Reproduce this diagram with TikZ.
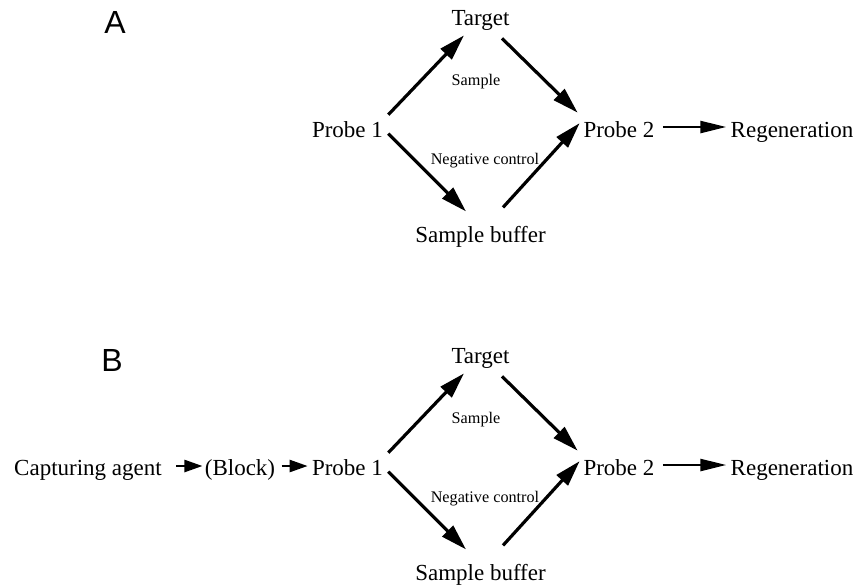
\documentclass[tikz,border=0pt]{standalone}
\usepackage{fontspec}
\setmainfont{Liberation Serif}
\newfontfamily\panelfont{Liberation Sans}
\usetikzlibrary{arrows.meta}
\begin{document}
\begin{tikzpicture}[x=0.5pt,y=-0.5pt,
	lbl/.style={inner sep=0pt,anchor=base,font=\fontsize{11.5}{13}\selectfont},
	note/.style={inner sep=0pt,anchor=base,font=\fontsize{8.1}{10}\selectfont},
	panel/.style={inner sep=0pt,anchor=base,font=\panelfont\fontsize{16}{18}\selectfont},
	arr/.style={line width=1.6pt,-{Triangle[length=13pt,width=7.5pt]}},
	longarr/.style={line width=1.2pt,-{Triangle[length=13pt,width=6pt]}},
	shortarr/.style={line width=1.2pt,-{Triangle[length=9pt,width=6pt]}}]
	\useasboundingbox (0,0) rectangle (857,586);

	\foreach \p/\dy/\lx in {A/0/115,B/338/112} {
	\begin{scope}[shift={(0,\dy)}]
	\node[panel] (lab\p) at (\lx,33) {\p};
	\node[lbl] (p1\p) at (347.5,137) {Probe 1};
	\node[lbl] (tg\p) at (480.5,25) {Target};
	\node[lbl] (sb\p) at (480.5,242) {Sample buffer};
	\node[lbl] (p2\p) at (619,137) {Probe 2};
	\node[lbl] (rg\p) at (792,137) {Regeneration};
	\node[note] (sm\p) at (476,85) {Sample};
	\node[note] (nc\p) at (485,164) {Negative control};

	\draw[arr] ([shift={(5,-6)}]p1\p.north east) -- ([shift={(-16.5,5)}]tg\p.south);
	\draw[arr] ([shift={(5,-4)}]p1\p.south east) -- ([shift={(-14.5,-14)}]sb\p.north);
	\draw[arr] ([shift={(21.5,8)}]tg\p.south) -- ([shift={(-5.5,-8)}]p2\p.north west);
	\draw[arr] ([shift={(22.5,-18)}]sb\p.north) -- ([shift={(-3.5,-6)}]p2\p.west);
	\draw[longarr] ([shift={(8,-10)}]p2\p.base east) -- ([shift={(-4,-10)}]rg\p.base west);
	\end{scope}
	}

	% capture step, only in B
	\node[lbl] (cap) at (88,475) {Capturing agent};
	\node[lbl] (blk) at (240,475) {(Block)};
	\draw[shortarr] ([shift={(14,-9)}]cap.base east) -- ([shift={(-2,-9)}]blk.base west);
	\draw[shortarr] ([shift={(6,-9)}]blk.base east) -- ([shift={(-4,-9)}]p1B.base west);
\end{tikzpicture}
\end{document}
